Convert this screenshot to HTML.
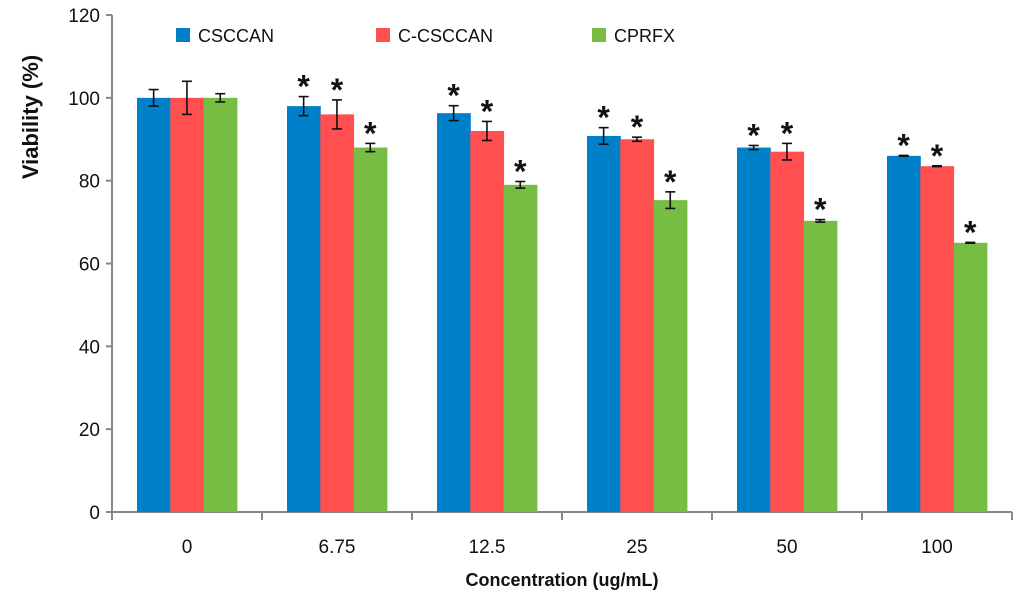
<!DOCTYPE html>
<html><head><meta charset="utf-8"><style>
body{margin:0;background:#fff;font-family:"Liberation Sans",sans-serif}
svg text{font-family:"Liberation Sans",sans-serif}
</style></head><body>
<svg id="chart" width="1024" height="606" viewBox="0 0 1024 606" xmlns="http://www.w3.org/2000/svg">
<g id="axes"></g><g id="bars"></g>
<g>
<rect x="176" y="28" width="14" height="14" fill="#0080c8"/>
<text x="198" y="42" font-size="18" fill="#111">CSCCAN</text>
<rect x="376" y="28" width="14" height="14" fill="#ff4f4f"/>
<text x="398" y="42" font-size="18" fill="#111">C-CSCCAN</text>
<rect x="592" y="28" width="14" height="14" fill="#77bd43"/>
<text x="614" y="42" font-size="18" fill="#111">CPRFX</text>
</g>
<text transform="translate(38,117) rotate(-90)" text-anchor="middle" font-size="22" font-weight="bold" fill="#111">Viability (%)</text>
<text x="562" y="586" text-anchor="middle" font-size="18" font-weight="bold" fill="#111">Concentration (ug/mL)</text>
</svg>
<script>
const categories=["0","6.75","12.5","25","50","100"];
const csccan=[100,98,96.3,90.8,88,86];
const ccsccan=[100,96,92,90,87,83.5];
const cprfx=[100,88,79,75.3,70.3,65];
const csccanErr=[2,2.3,1.8,2,0.5,0.1];
const ccsccanErr=[4,3.5,2.3,0.5,2,0.1];
const cprfxErr=[1,1,0.8,2,0.3,0.1];
const csccanStar=[false,true,true,true,true,true];
const ccsccanStar=[false,true,true,true,true,true];
const cprfxStar=[false,true,true,true,true,true];
const yTicks=[0,20,40,60,80,100,120];
const NS="http://www.w3.org/2000/svg";
const x0=112,gw=150,y0=512,yTop=15,yMax=120;
const yS=v=>y0-(v/yMax)*(y0-yTop);
function mk(tag,attrs,parent){const e=document.createElementNS(NS,tag);for(const k in attrs)e.setAttribute(k,attrs[k]);parent.appendChild(e);return e;}
const ax=document.getElementById('axes'),bg=document.getElementById('bars');
let l=mk('line',{x1:x0,y1:yTop,x2:x0,y2:y0,stroke:'#888','stroke-width':2},ax);


l=mk('line',{x1:x0,y1:y0,x2:x0+gw*categories.length,y2:y0,stroke:'#888','stroke-width':2},ax);


yTicks.forEach(t=>{const y=yS(t);
 mk('line',{x1:x0-6,y1:y,x2:x0,y2:y,stroke:'#888','stroke-width':2},ax);
 const tx=mk('text',{x:x0-12,y:y+7,'text-anchor':'end','font-size':19,fill:'#111'},ax);tx.textContent=t;
 
 });
for(let i=0;i<=categories.length;i++){mk('line',{x1:x0+i*gw,y1:y0,x2:x0+i*gw,y2:y0+8,stroke:'#888','stroke-width':2},ax);}
const series=[[csccan,csccanErr,csccanStar,'#0080c8','csccan'],[ccsccan,ccsccanErr,ccsccanStar,'#ff4f4f','c-csccan'],[cprfx,cprfxErr,cprfxStar,'#77bd43','cprfx']];
const bw=33.3;
categories.forEach((c,i)=>{
 const tx=mk('text',{x:x0+i*gw+gw/2,y:y0+41,'text-anchor':'middle','font-size':19,fill:'#111'},ax);tx.textContent=c;
 
 
 series.forEach((s,j)=>{
  const v=s[0][i],e=s[1][i],bx=x0+i*gw+25+j*bw,cx=bx+bw/2;
  const r=mk('rect',{x:bx,y:yS(v),width:bw+0.5,height:y0-yS(v),fill:s[3]},bg);
  
  
  const g=mk('g',{stroke:'#111','stroke-width':1.6},bg);
  
  
  mk('line',{x1:cx,y1:yS(v+e),x2:cx,y2:yS(v-e)},g);
  mk('line',{x1:cx-5,y1:yS(v+e),x2:cx+5,y2:yS(v+e)},g);
  mk('line',{x1:cx-5,y1:yS(v-e),x2:cx+5,y2:yS(v-e)},g);
  if(s[2][i]){const st=mk('text',{x:cx,y:yS(v+e)+1,'text-anchor':'middle','font-size':32,'font-weight':'bold',fill:'#111'},bg);st.textContent='*';
   
   }
 });
});
</script>
</body></html>
